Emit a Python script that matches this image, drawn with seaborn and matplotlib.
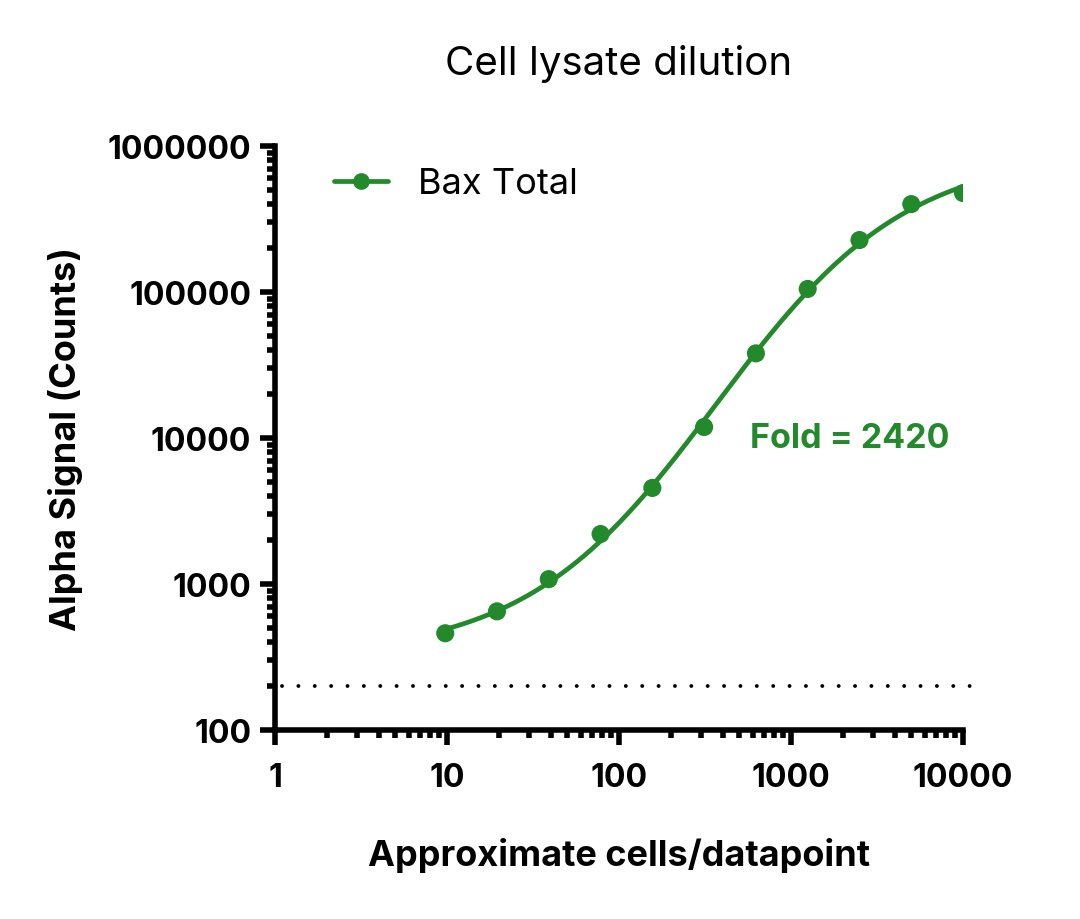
import numpy as np
import pandas as pd
import matplotlib
matplotlib.use("Agg")
import matplotlib.pyplot as plt
import matplotlib.ticker as mticker
from matplotlib.lines import Line2D
import seaborn as sns

# ---- data ----
cells = [9.77, 19.53, 39.06, 78.13, 156.25, 312.5, 625, 1250, 2500, 5000, 10000]
signal = [460, 650, 1080, 2200, 4550, 11900, 38000, 105000, 227000, 400000, 476000]
background = 200
series_name = "Bax Total"
fold_text = "Fold = 2420"
x_ticks = [1, 10, 100, 1000, 10000]
y_ticks = [100, 1000, 10000, 100000, 1000000]

GREEN = "#238A2C"

sns.set_theme(style="ticks")
plt.rcParams["font.family"] = ["Inter", "DejaVu Sans"]
plt.rcParams["text.color"] = "black"
plt.rcParams["axes.labelcolor"] = "black"
plt.rcParams["xtick.color"] = "black"
plt.rcParams["ytick.color"] = "black"

# ---- 4PL fit in log space (derived from the data points) ----
lx = np.log10(np.array(cells, float))
ly = np.log10(np.array(signal, float))

def model(p, x):
    a, d, c, b = p
    return a + (d - a) / (1 + 10 ** ((c - x) * b))

p = np.array([np.log10(400), np.log10(600000), np.log10(500), 1.2])
lam = 1e-3
for _ in range(300):
    r = ly - model(p, lx)
    J = np.zeros((len(lx), 4))
    for k in range(4):
        dp = np.zeros(4); dp[k] = 1e-6
        J[:, k] = (model(p + dp, lx) - model(p - dp, lx)) / 2e-6
    A = J.T @ J
    g = J.T @ r
    step = np.linalg.solve(A + lam * np.diag(np.diag(A)), g)
    pn = p + step
    if np.sum((ly - model(pn, lx)) ** 2) < np.sum(r ** 2):
        p = pn; lam *= 0.5
    else:
        lam *= 4

xfit = np.logspace(lx.min(), lx.max(), 300)
yfit = 10 ** model(p, np.log10(xfit))

pts = pd.DataFrame({"cells": cells, "signal": signal})
fit = pd.DataFrame({"cells": xfit, "signal": yfit})

fig = plt.figure(figsize=(10.8, 9.2), dpi=100)
ax = fig.add_axes([0.2546, 0.2054, 0.6371, 0.6348])

sns.lineplot(data=fit, x="cells", y="signal", ax=ax, color=GREEN, linewidth=3.4, sort=False)
sns.scatterplot(data=pts, x="cells", y="signal", ax=ax, color=GREEN, s=170,
                edgecolor="none", zorder=5)
ax.plot([1.1, 11000], [background, background], ls=(0, (0.01, 4.2)), color="black",
        lw=2.8, clip_on=False, dash_capstyle="round")

ax.set_xscale("log")
ax.set_yscale("log")
ax.set_xlim(1, 10000)
ax.set_ylim(100, 1000000)

ax.xaxis.set_major_locator(mticker.FixedLocator(x_ticks))
ax.yaxis.set_major_locator(mticker.FixedLocator(y_ticks))
ax.xaxis.set_major_formatter(mticker.FuncFormatter(lambda v, _: f"{int(round(v))}"))
ax.yaxis.set_major_formatter(mticker.FuncFormatter(lambda v, _: f"{int(round(v))}"))
ax.xaxis.set_minor_locator(mticker.LogLocator(base=10, subs=np.arange(2, 10), numticks=20))
ax.yaxis.set_minor_locator(mticker.LogLocator(base=10, subs=np.arange(2, 10), numticks=20))
ax.xaxis.set_minor_formatter(mticker.NullFormatter())
ax.yaxis.set_minor_formatter(mticker.NullFormatter())

for s in ["top", "right"]:
    ax.spines[s].set_visible(False)
for s in ["left", "bottom"]:
    ax.spines[s].set_linewidth(4.0)
    ax.spines[s].set_color("black")
ax.tick_params(which="major", direction="out", length=11, width=4.0, color="black",
               labelsize=23, pad=6, labelcolor="black")
ax.tick_params(which="minor", direction="out", length=6, width=4.0, color="black")
for lab in ax.get_xticklabels() + ax.get_yticklabels():
    lab.set_fontweight("bold")
ax.tick_params(axis="x", pad=12)

ax.set_xlabel("Approximate cells/datapoint", fontsize=26, fontweight="bold", labelpad=32,
              color="black")
ax.set_ylabel("Alpha Signal (Counts)", fontsize=26, fontweight="bold", labelpad=18,
              color="black")
ax.set_title("Cell lysate dilution", fontsize=29, pad=52, color="black")

ax.text(0.69, 0.50, fold_text, transform=ax.transAxes, color=GREEN, fontsize=24.5,
        fontweight="bold", ha="left", va="center")

handle = Line2D([0], [0], color=GREEN, lw=3.4, marker="o", markersize=11)
leg = ax.legend([handle], [series_name], loc="upper left", frameon=False, fontsize=26,
                handlelength=1.5, handletextpad=0.85, bbox_to_anchor=(0.038, 1.019))
for t in leg.get_texts():
    t.set_color("black")

fig.savefig("out.png", dpi=100)
